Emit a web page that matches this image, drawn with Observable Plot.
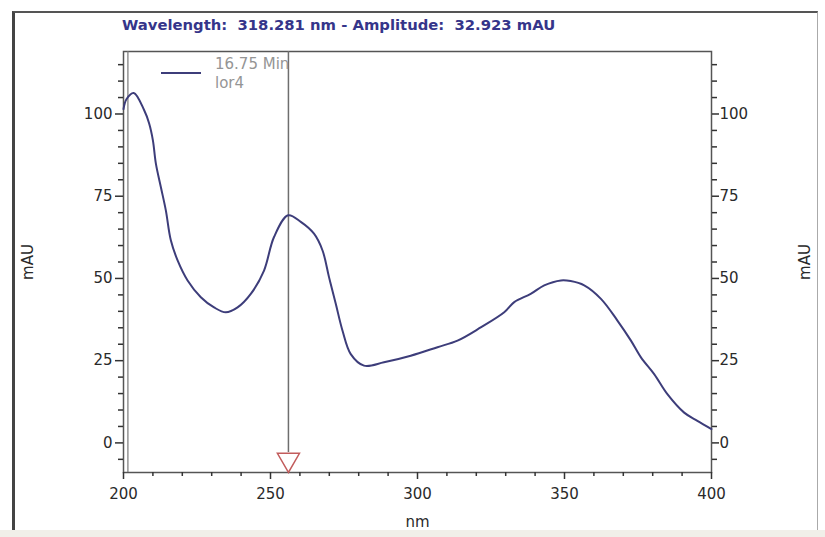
<!DOCTYPE html>
<html>
<head>
<meta charset="utf-8">
<script src="https://cdn.jsdelivr.net/npm/d3@7"></script>
<script src="https://cdn.jsdelivr.net/npm/@observablehq/plot@0.6"></script>
<style>
  html, body { margin: 0; padding: 0; background: #fff; }
  #wrap { position: relative; width: 825px; height: 537px; overflow: hidden; font-family: "DejaVu Sans", sans-serif; }
  #outer { position: absolute; left: 12px; top: 11px; width: 806px; height: 540px; border-top: 2px solid #555; border-left: 3px solid #444; border-right: 1px solid #aaa; box-sizing: border-box; }
  #band { position: absolute; left: 0; top: 530px; width: 825px; height: 7px; background: #f1efe9; }
  #title { height: 38px; box-sizing: border-box; padding-left: 122px; padding-top: 16px; font-size: 14.8px; font-weight: bold; color: #35358a; white-space: nowrap; }
  #legend { position: absolute; left: 161px; top: 55px; font-size: 15px; color: #959595; line-height: 19px; }
  #legend .sw { position: absolute; left: 0; top: 17px; width: 40px; height: 0; border-top: 2px solid #3d3d7a; }
  #legend .tx { position: absolute; left: 54px; top: 0; white-space: nowrap; }
  #chart svg { display: block; }
</style>
</head>
<body>
<div id="wrap">
  <div id="outer"></div>
  <div id="title">Wavelength:&nbsp; 318.281 nm - Amplitude:&nbsp; 32.923 mAU</div>
  <div id="chart"></div>
  <div id="legend"><span class="sw"></span><span class="tx">16.75 Min<br>lor4</span></div>
  <div id="band"></div>
</div>
<script>
// Spectrum
const wavelength = [200, 201, 203.5, 207, 208.7, 210, 211, 212.7, 214.4, 216.1,
  218.4, 221.8, 226.3, 230.8, 234.8, 238.8, 243.3, 247.8, 251.2, 256,
  260.3, 264.8, 267.7, 269.9, 272.2, 274.5, 277.3, 281.8, 288.6, 297.7,
  306.8, 313.6, 321.5, 329.5, 332.9, 338.5, 343.1, 348.8, 352.1, 356.7,
  362.4, 368, 372.6, 376, 380.5, 385, 390.7, 395.2, 400];
const amplitude = [101.5, 104.5, 106.4, 101.2, 97.2, 92, 85, 77.8, 70.7, 61.6,
  55.5, 49.4, 44.3, 41.2, 39.7, 41.2, 45.3, 52.4, 62.6, 69.2,
  67.2, 63.6, 58.5, 50.4, 42.3, 34.1, 27, 23.5, 24.5, 26.5,
  29.1, 31.1, 35.1, 39.7, 42.8, 45.3, 47.9, 49.4, 49.2, 47.9,
  43.8, 37.2, 31.1, 26, 20.9, 14.8, 9.2, 6.7, 4.2];

// cursors
const bracketNm = [201.5];
const cursorNm = [256.1];
const cursorTop = [119];
const cursorBottom = [-2.9];
const markerAmp = [-5.1];

// scales and ticks
const xDomain = [200, 400];
const yDomain = [-9, 119];
const xMajorTicks = [200, 250, 300, 350, 400];
const xMinorTicks = [210, 220, 230, 240, 260, 270, 280, 290, 310, 320, 330, 340, 360, 370, 380, 390];
const yMajorTicks = [0, 25, 50, 75, 100];
const yMinorTicks = [-5, 5, 10, 15, 20, 30, 35, 40, 45, 55, 60, 65, 70, 80, 85, 90, 95, 105, 110, 115];

const data = wavelength.map((w, i) => ({nm: w, mAU: amplitude[i]}));
const cursors = cursorNm.map((c, i) => ({nm: c, top: cursorTop[i], bottom: cursorBottom[i], mark: markerAmp[i]}));

const lineColor = "#3d3d7a";
const axisColor = "#333";

const chart = Plot.plot({
  width: 825,
  height: 499,
  marginTop: 13,
  marginLeft: 123,
  marginRight: 114,
  marginBottom: 65,
  style: {fontFamily: "DejaVu Sans, sans-serif", fontSize: "15px", color: "#2a2a2a", background: "transparent", overflow: "visible"},
  x: {domain: xDomain},
  y: {domain: yDomain},
  marks: [
    Plot.frame({stroke: "#555", strokeWidth: 1.5}),
    Plot.ruleX(bracketNm, {x: d => d, stroke: "#777", strokeWidth: 1.2}),
    Plot.ruleX(cursors, {x: "nm", y1: "top", y2: "bottom", stroke: "#6e6e6e", strokeWidth: 1.5}),
    Plot.line(data, {x: "nm", y: "mAU", stroke: lineColor, strokeWidth: 2, curve: "catmull-rom"}),
    Plot.dot(cursors, {x: "nm", y: "mark", symbol: "triangle", rotate: 180, r: 8.2, stroke: "#c25c5c", fill: "white", strokeWidth: 1.5}),
    Plot.axisY(yMajorTicks, {anchor: "left", tickSize: 8, tickPadding: 3, stroke: axisColor, strokeWidth: 1.5, label: "mAU", labelAnchor: "center", labelArrow: "none", labelOffset: 101}),
    Plot.axisY(yMinorTicks, {anchor: "left", tickSize: 5, stroke: axisColor, strokeWidth: 1.5, tickFormat: () => "", label: null}),
    Plot.axisY(yMajorTicks, {anchor: "right", tickSize: 7, tickPadding: 1, stroke: axisColor, strokeWidth: 1.5, label: "mAU", labelAnchor: "center", labelArrow: "none", labelOffset: 98}),
    Plot.axisY(yMinorTicks, {anchor: "right", tickSize: 5, stroke: axisColor, strokeWidth: 1.5, tickFormat: () => "", label: null}),
    Plot.axisX(xMajorTicks, {anchor: "bottom", tickSize: 7, tickPadding: 9, stroke: axisColor, strokeWidth: 1.5, label: "nm", labelAnchor: "center", labelArrow: "none", labelOffset: 54}),
    Plot.axisX(xMinorTicks, {anchor: "bottom", tickSize: 4, stroke: axisColor, strokeWidth: 1.5, tickFormat: () => "", label: null})
  ]
});
document.getElementById("chart").appendChild(chart);
</script>
</body>
</html>
